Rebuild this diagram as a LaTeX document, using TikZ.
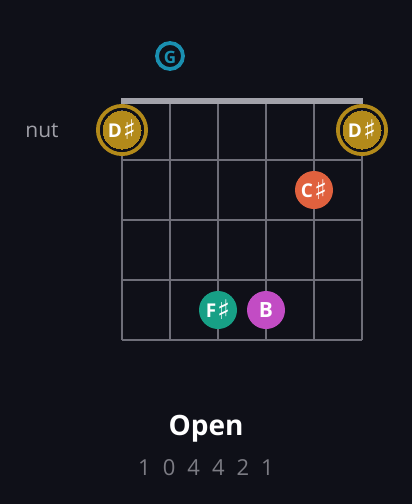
\documentclass[tikz,border=0pt]{standalone}
\usepackage{fontspec}
\setmainfont{Open Sans}
\newfontfamily\symf{DejaVu Sans}
\definecolor{bg}{HTML}{0F1018}
\definecolor{grid}{HTML}{6E6E78}
\definecolor{nutc}{HTML}{A2A2AA}
\definecolor{gold}{HTML}{B38A1A}
\definecolor{blue}{HTML}{1A8FB0}
\definecolor{orng}{HTML}{E0613E}
\definecolor{teal}{HTML}{17A086}
\definecolor{mag}{HTML}{C24CC4}
\definecolor{lbl}{HTML}{A0A0A8}
\definecolor{fing}{HTML}{7C7C84}
\newcommand{\shp}{\kern1pt\raisebox{-2.5pt}{\symf\fontsize{27}{27}\selectfont ♯}}
\tikzset{
  gridline/.style={draw=grid, line width=1.4pt},
  notedot/.style={circle, minimum size=38pt, inner sep=0pt, text=white, font=\fontsize{19}{19}\selectfont\bfseries},
  ringdot/.style={circle, minimum size=38pt, inner sep=0pt, fill=gold, draw=gold, line width=0pt, text=white, font=\fontsize{19}{19}\selectfont\bfseries},
  finger/.style={text=fing, font=\fontsize{22}{22}\selectfont},
}
\begin{document}
\begin{tikzpicture}[x=1pt,y=-1pt]
\fill[bg] (0,0) rectangle (412,504);
\useasboundingbox (0,0) rectangle (412,504);
% strings
\foreach \i in {0,...,5} {
  \draw[gridline] ({122+48*\i},100) -- ({122+48*\i},340);
}
% frets
\foreach \j in {1,...,4} {
  \draw[gridline] (122,{100+60*\j}) -- (362,{100+60*\j});
}
% nut
\fill[nutc] (121,97.5) rectangle (363,103.5);
\node[font=\fontsize{21}{21}\selectfont, text=lbl] (nut) at (42,131) {nut};
% open strings
\draw[gold, line width=4pt] (122,130) circle (24);
\draw[bg, line width=2pt] (122,130) circle (21);
\node[ringdot] (d1) at (122,130) {D\shp};
\draw[gold, line width=4pt] (362,130) circle (24);
\draw[bg, line width=2pt] (362,130) circle (21);
\node[ringdot] (d6) at (362,130) {D\shp};
% G marker
\draw[blue, line width=3.8pt] (170,56) circle (13);
\node[text=blue, font=\fontsize{17}{17}\selectfont\bfseries] (g) at (170,57) {G};
% fretted notes
\node[notedot, fill=orng] (cs) at (314,190) {C\shp};
\node[notedot, fill=teal] (fs) at (218,310) {F\shp};
\node[notedot, fill=mag, font=\fontsize{21}{21}\selectfont\bfseries] (b) at (266,310) {B};
% labels
\node[text=white, font=\fontsize{28}{28}\selectfont\bfseries] (title) at (206,429) {Open};
\foreach \d [count=\k from 0] in {1,0,4,4,2,1} {
  \node[finger] (f\k) at ({206+(\k-2.5)*24.6},468) {\d};
}
\end{tikzpicture}
\end{document}
